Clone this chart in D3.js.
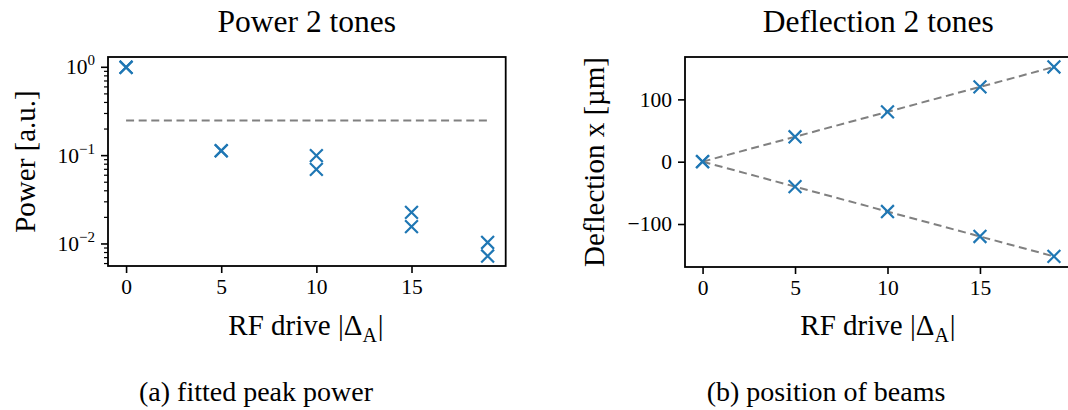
<!DOCTYPE html>
<html>
<head>
<meta charset="utf-8">
<script src="https://cdn.jsdelivr.net/npm/d3@7"></script>
<style>
  html, body { margin: 0; padding: 0; background: #fff; }
  svg { display: block; }
  svg text { font-family: "Liberation Serif", "Times New Roman", serif !important; }
</style>
</head>
<body>
<svg id="fig" width="1068" height="410"></svg>
<script>
// RF drive settings |Δ_A| shared by both panels
const drive = [0, 5, 10, 15, 19];

// Fitted peak power of the two beams (a.u.)
const powerBeamA = [1.0, 0.114, 0.100, 0.0228, 0.0104];
const powerBeamB = [1.0, 0.113, 0.070, 0.0157, 0.0073];
const powerThreshold = 0.25;

// Beam positions (µm)
const deflBeamA = [0, 40, 80, 120, 152];
const deflBeamB = [0, -40, -80, -120, -152];
// Linear fits: value at drive 0 and at drive 19
const fitDrive = [0, 19];
const fitA = [0, 152];
const fitB = [0, -152];

// Tick labels
const xTicks = [0, 5, 10, 15];
const powerMajorExp = [0, -1, -2];
const deflTicks = [-100, 0, 100];

const BLUE = "#1f77b4";
const GREY = "#808080";
const TICK_FS = 21.5, LABEL_FS = 29, TITLE_FS = 31.5, CAPTION_FS = 28;
const svg = d3.select("#fig");

function drawX(g, cx, cy, r) {
  g.append("path")
    .attr("d", `M${cx - r},${cy - r}L${cx + r},${cy + r}M${cx - r},${cy + r}L${cx + r},${cy - r}`)
    .attr("stroke", BLUE).attr("stroke-width", 2.2).attr("fill", "none");
}

function panel(opts) {
  const { left, right, top, bottom } = opts;
  const g = svg.append("g");
  const x = d3.scaleLinear().domain([-0.95, 19.95]).range([left, right]);
  const y = opts.y.range([bottom, top]);

  // x axis
  const xAxis = g.append("g").attr("transform", `translate(0,${bottom})`)
    .call(d3.axisBottom(x).tickValues(xTicks).tickSize(7).tickPadding(6).tickFormat(d3.format("d")));
  xAxis.select(".domain").remove();
  xAxis.selectAll(".tick line").attr("stroke", "#000").attr("stroke-width", 1.6);
  xAxis.selectAll(".tick text").attr("font-size", TICK_FS).attr("fill", "#000");

  opts.yAxis(g, y);

  // frame
  g.append("rect").attr("x", left).attr("y", top)
    .attr("width", right - left).attr("height", bottom - top)
    .attr("fill", "none").attr("stroke", "#000").attr("stroke-width", 1.8);

  // title
  g.append("text").attr("x", (left + right) / 2).attr("y", 32)
    .attr("text-anchor", "middle").attr("font-size", TITLE_FS).text(opts.title);

  // x label
  const xl = g.append("text").attr("x", opts.xLabelX).attr("y", 335)
    .attr("text-anchor", "middle").attr("font-size", LABEL_FS);
  xl.append("tspan").text("RF drive |Δ");
  xl.append("tspan").attr("dy", 7).attr("font-size", 20).text("A");
  xl.append("tspan").attr("dy", -7).attr("dx", 1).text("|");

  // y label
  g.append("text")
    .attr("transform", `translate(${opts.yLabelX},${(top + bottom) / 2}) rotate(-90)`)
    .attr("text-anchor", "middle").attr("font-size", LABEL_FS).text(opts.yLabel);

  // caption
  g.append("text").attr("x", opts.captionX).attr("y", 400.5)
    .attr("text-anchor", "middle").attr("font-size", CAPTION_FS).text(opts.caption);

  const plot = g.append("g");
  opts.draw(plot, x, y);
}

// (a) fitted peak power, log axis
panel({
  left: 108, right: 505.7, top: 57, bottom: 266,
  y: d3.scaleLog().domain([0.00563, 1.308]),
  title: "Power 2 tones",
  xLabelX: 306,
  yLabel: "Power [a.u.]", yLabelX: 35,
  caption: "(a) fitted peak power", captionX: 256,
  yAxis: (g, y) => {
    const [lo, hi] = y.domain();
    const minors = [];
    for (let e = -3; e <= 0; e++) for (let m = 2; m <= 9; m++) {
      const v = m * Math.pow(10, e);
      if (v >= lo && v <= hi) minors.push(v);
    }
    const ax = g.append("g").attr("transform", "translate(108,0)");
    ax.selectAll("line.minor").data(minors).join("line").attr("class", "minor")
      .attr("x1", -4).attr("x2", 0).attr("y1", d => y(d)).attr("y2", d => y(d))
      .attr("stroke", "#000").attr("stroke-width", 1.2);
    ax.selectAll("line.major").data(powerMajorExp).join("line").attr("class", "major")
      .attr("x1", -7).attr("x2", 0).attr("y1", d => y(Math.pow(10, d))).attr("y2", d => y(Math.pow(10, d)))
      .attr("stroke", "#000").attr("stroke-width", 1.6);
    const lab = ax.selectAll("text.lab").data(powerMajorExp).join("text").attr("class", "lab")
      .attr("x", -13).attr("y", d => y(Math.pow(10, d)) + 7)
      .attr("text-anchor", "end").attr("font-size", TICK_FS);
    lab.append("tspan").text("10");
    lab.append("tspan").attr("dy", -9).attr("font-size", 15)
      .text(d => d === 0 ? "0" : "−" + Math.abs(d));
  },
  draw: (p, x, y) => {
    p.append("line")
      .attr("x1", x(drive[0])).attr("x2", x(drive[drive.length - 1]))
      .attr("y1", y(powerThreshold)).attr("y2", y(powerThreshold))
      .attr("stroke", GREY).attr("stroke-width", 2).attr("stroke-dasharray", "8,4.6");
    drive.forEach((d, i) => {
      drawX(p, x(d), y(powerBeamA[i]), 6.4);
      drawX(p, x(d), y(powerBeamB[i]), 6.4);
    });
  }
});

// (b) beam positions, linear axis
panel({
  left: 685, right: 1071.5, top: 57, bottom: 267,
  y: d3.scaleLinear().domain([-169, 168]),
  title: "Deflection 2 tones",
  xLabelX: 878,
  yLabel: "Deflection x [µm]", yLabelX: 604,
  caption: "(b) position of beams", captionX: 826,
  yAxis: (g, y) => {
    const ax = g.append("g").attr("transform", "translate(685,0)")
      .call(d3.axisLeft(y).tickValues(deflTicks).tickSize(7).tickPadding(6)
        .tickFormat(d => d < 0 ? "−" + Math.abs(d) : String(d)));
    ax.select(".domain").remove();
    ax.selectAll(".tick line").attr("stroke", "#000").attr("stroke-width", 1.6);
    ax.selectAll(".tick text").attr("font-size", TICK_FS).attr("fill", "#000");
  },
  draw: (p, x, y) => {
    const line = d3.line().x(d => x(d[0])).y(d => y(d[1]));
    [fitA, fitB].forEach(f => {
      p.append("path").attr("d", line(fitDrive.map((d, i) => [d, f[i]])))
        .attr("stroke", GREY).attr("stroke-width", 2).attr("stroke-dasharray", "8,4.6")
        .attr("fill", "none");
    });
    drive.forEach((d, i) => {
      drawX(p, x(d), y(deflBeamA[i]), 6.4);
      drawX(p, x(d), y(deflBeamB[i]), 6.4);
    });
  }
});
</script>
</body>
</html>
